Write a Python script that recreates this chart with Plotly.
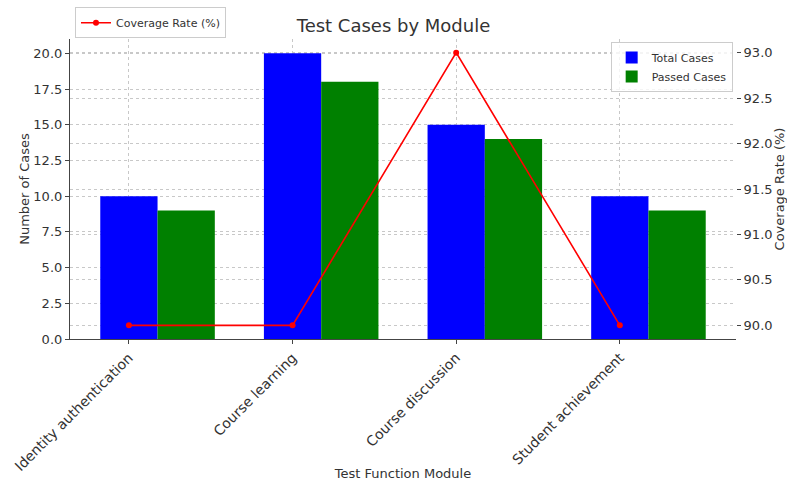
import plotly.graph_objects as go

modules = ["Identity authentication", "Course learning", "Course discussion", "Student achievement"]
total_cases = [10, 20, 15, 10]
passed_cases = [9, 18, 14, 9]
coverage_rate = [90.0, 90.0, 93.0, 90.0]

idx = list(range(len(modules)))
bar_w = 0.35
FONT = "DejaVu Sans"
TXT = "#333333"
GRID = "#c8c8c8"

fig = go.Figure()
fig.add_trace(go.Bar(x=idx, y=total_cases, name="Total Cases", marker_color="blue",
                     marker_line_width=0, width=bar_w, offset=-bar_w / 2, legend="legend2",
                     showlegend=True))
fig.add_trace(go.Bar(x=idx, y=passed_cases, name="Passed Cases", marker_color="green",
                     marker_line_width=0, width=bar_w, offset=bar_w / 2, legend="legend2",
                     showlegend=True))
fig.add_trace(go.Scatter(x=idx, y=coverage_rate, name="Coverage Rate (%)", yaxis="y2",
                         mode="lines+markers", line=dict(color="red", width=1.6),
                         marker=dict(color="red", size=6), legend="legend", showlegend=True))

fig.update_layout(
    width=787, height=481,
    margin=dict(l=70, r=51, t=39, b=142, autoexpand=False),
    paper_bgcolor="white", plot_bgcolor="white",
    showlegend=True,
    font=dict(family=FONT, color=TXT, size=13),
    title=dict(text="Test Cases by Module", x=0.5, xanchor="center", y=0.947, yanchor="middle",
               font=dict(size=18, color=TXT)),
    barmode="overlay",
    xaxis=dict(range=[-0.36, 3.71], tickmode="array", tickvals=idx, ticktext=modules,
               tickangle=-45, showgrid=True, gridcolor=GRID, griddash="dot", gridwidth=1,
               showline=True, linecolor="#444444", linewidth=1.2, ticks="outside",
               ticklen=4, tickcolor="#444444", zeroline=False, automargin=False,
               tickfont=dict(size=14),
               title=dict(text="Test Function Module", font=dict(size=13), standoff=4)),
    yaxis=dict(range=[0, 21], dtick=2.5, tickformat=".1f", showgrid=True, gridcolor=GRID,
               griddash="dot", gridwidth=1, showline=True, linecolor="#444444", linewidth=1.2,
               ticks="outside", ticklen=4, tickcolor="#444444", zeroline=False, automargin=False,
               tickfont=dict(size=13),
               title=dict(text="Number of Cases", font=dict(size=13), standoff=0)),
    yaxis2=dict(overlaying="y", side="right", range=[89.85, 93.15], dtick=0.5, tickformat=".1f",
                showgrid=True, gridcolor=GRID, griddash="dot", gridwidth=1, showline=False,
                ticks="outside", ticklen=4, tickcolor="#444444", zeroline=False, automargin=False,
                tickfont=dict(size=13),
                title=dict(text="Coverage Rate (%)", font=dict(size=13), standoff=4)),
    legend=dict(x=0.0075, y=0.985, yref="container", xanchor="left", yanchor="top",
                bgcolor="rgba(255,255,255,0.8)",
                bordercolor="#cccccc", borderwidth=1, font=dict(size=11, color=TXT),
                itemwidth=30),
    legend2=dict(x=0.995, y=0.99, xanchor="right", yanchor="top", bgcolor="rgba(255,255,255,0.8)",
                 bordercolor="#cccccc", borderwidth=1, font=dict(size=11, color=TXT),
                 tracegroupgap=0, itemwidth=30),
)

fig.write_html("out.html", config={"displayModeBar": False},
               post_script="document.body.style.margin='0';")
